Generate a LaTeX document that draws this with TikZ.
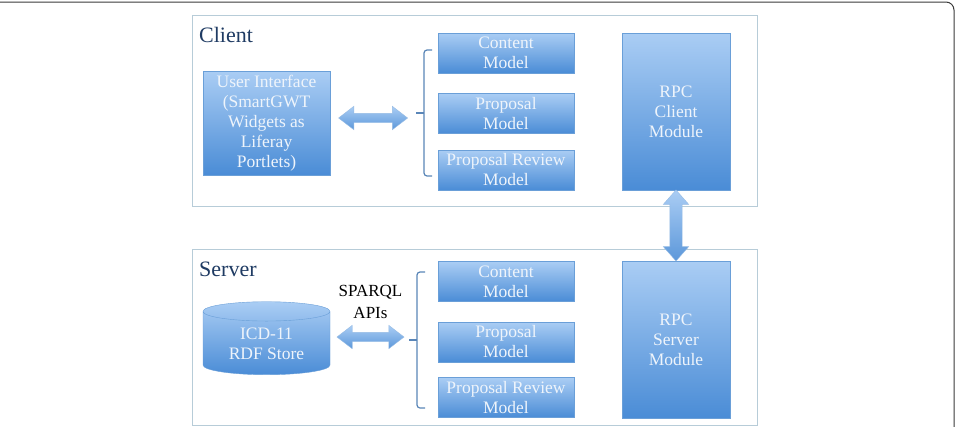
\documentclass[tikz,border=0pt]{standalone}
\usepackage{fontspec}
\setmainfont{Liberation Serif}
\usepackage{tikz}
\usetikzlibrary{shapes.geometric, shapes.arrows, positioning, calc}
\usepackage{xcolor}
\definecolor{BoxTop}{HTML}{AACDF4}
\definecolor{BoxBottom}{HTML}{4A8CD6}
\definecolor{BoxEdge}{HTML}{6A9FD8}
\definecolor{PanelEdge}{HTML}{B7CCD8}
\definecolor{TitleNavy}{HTML}{1F3B63}
\definecolor{BraceBlue}{HTML}{5A86B8}
\definecolor{FrameGray}{HTML}{3A3A3A}
\definecolor{LabelText}{HTML}{EEF4FB}
\tikzset{
    % Panel styles
    panelbox/.style={
        rectangle,
        draw=PanelEdge,
        fill=white,
        line width=1pt,
        anchor=north west,
        inner sep=0pt
    },
    paneltitle/.style={
        anchor=north west,
        inner sep=0pt,
        text=TitleNavy,
        font=\fontsize{22}{24}\selectfont
    },
    % Node styles
    modelbox/.style={
        rectangle,
        draw=BoxEdge,
        top color=BoxTop,
        bottom color=BoxBottom,
        thin,
        minimum width=136pt,
        minimum height=40pt,
        inner sep=1pt,
        align=center,
        text=LabelText,
        font=\fontsize{17.5}{20}\selectfont
    },
    uibox/.style={
        modelbox,
        minimum width=127pt,
        minimum height=104pt
    },
    rpcbox/.style={
        modelbox,
        minimum width=108pt,
        minimum height=157pt
    },
    storecyl/.style={
        cylinder,
        shape border rotate=90,
        aspect=0.25,
        draw=BoxEdge,
        top color=BoxTop,
        bottom color=BoxBottom,
        thin,
        minimum width=127pt,
        minimum height=73pt,
        inner sep=1pt,
        align=center,
        text=LabelText,
        font=\fontsize{17.5}{20}\selectfont
    },
    % Arrow styles
    fatarrow/.style={
        double arrow,
        double arrow head extend=7pt,
        double arrow tip angle=75,
        inner sep=4.5pt,
        draw=BoxEdge!70,
        top color=BoxTop,
        bottom color=BoxBottom!90
    },
    bracket/.style={
        draw=BraceBlue,
        line width=1.2pt,
        rounded corners=3pt
    },
    apilabel/.style={
        align=center,
        inner sep=0pt,
        font=\fontsize{17}{22}\selectfont
    }
}
\begin{document}
\begin{tikzpicture}[x=1pt, y=-1pt]
    \useasboundingbox (0,0) rectangle (959,426);

    % Outer frame
    \draw[FrameGray, line width=1pt, rounded corners=8pt] (-10,2) -- (954,2) -- (954,440);

    % Client panel
    \node[panelbox, minimum width=565pt, minimum height=191pt] (clientpanel) at (192,15) {};
    \node[paneltitle] (clienttitle) at (199,27) {Client};

    \node[uibox] (ui) at (266.5,123) {User Interface\\(SmartGWT\\Widgets as\\Liferay\\Portlets)};
    \node[modelbox] (ccontent) at (506,53) {Content\\Model};
    \node[modelbox] (cproposal) at (506,113.5) {Proposal\\Model};
    \node[modelbox] (creview) at (506,170) {Proposal Review\\Model};
    \node[rpcbox] (rpcclient) at (676,111.5) {RPC\\Client\\Module};

    % Client brace
    \coordinate (cbrace) at (416,113);
    \draw[bracket] ($(cbrace)+(16,-63)$) -- ++(-8,0) -- ++(0,126) -- ++(8,0);
    \draw[bracket] (cbrace) -- ++(8,0);

    % Server panel
    \node[panelbox, minimum width=565pt, minimum height=176pt] (serverpanel) at (192,249) {};
    \node[paneltitle] (servertitle) at (199,262) {Server};

    \node[storecyl] (store) at (266.5,344) {ICD-11\\RDF Store};
    \node[modelbox] (scontent) at (506,281.5) {Content\\Model};
    \node[modelbox] (sproposal) at (506,342) {Proposal\\Model};
    \node[modelbox] (sreview) at (506,397.5) {Proposal Review\\Model};
    \node[rpcbox] (rpcserver) at (676,339.5) {RPC\\Server\\Module};

    % Server brace
    \coordinate (sbrace) at (409,340);
    \draw[bracket] ($(sbrace)+(16,-68)$) -- ++(-8,0) -- ++(0,136) -- ++(8,0);
    \draw[bracket] (sbrace) -- ++(8,0);

    % Connectors
    \node[fatarrow, minimum height=69pt] (uiarrow) at ($(ui.east)!0.5!(cbrace)$) {};
    \node[fatarrow, minimum height=67pt] (storearrow) at (370.5,337) {};
    \node[apilabel, above=13pt of storearrow] (sparql) {SPARQL\\APIs};
    \node[fatarrow, rotate=90, minimum height=71pt, inner sep=6pt, double arrow head extend=6.5pt, double arrow tip angle=83] (rpcarrow) at ($(rpcclient.south)!0.5!(rpcserver.north)$) {};
\end{tikzpicture}
\end{document}
